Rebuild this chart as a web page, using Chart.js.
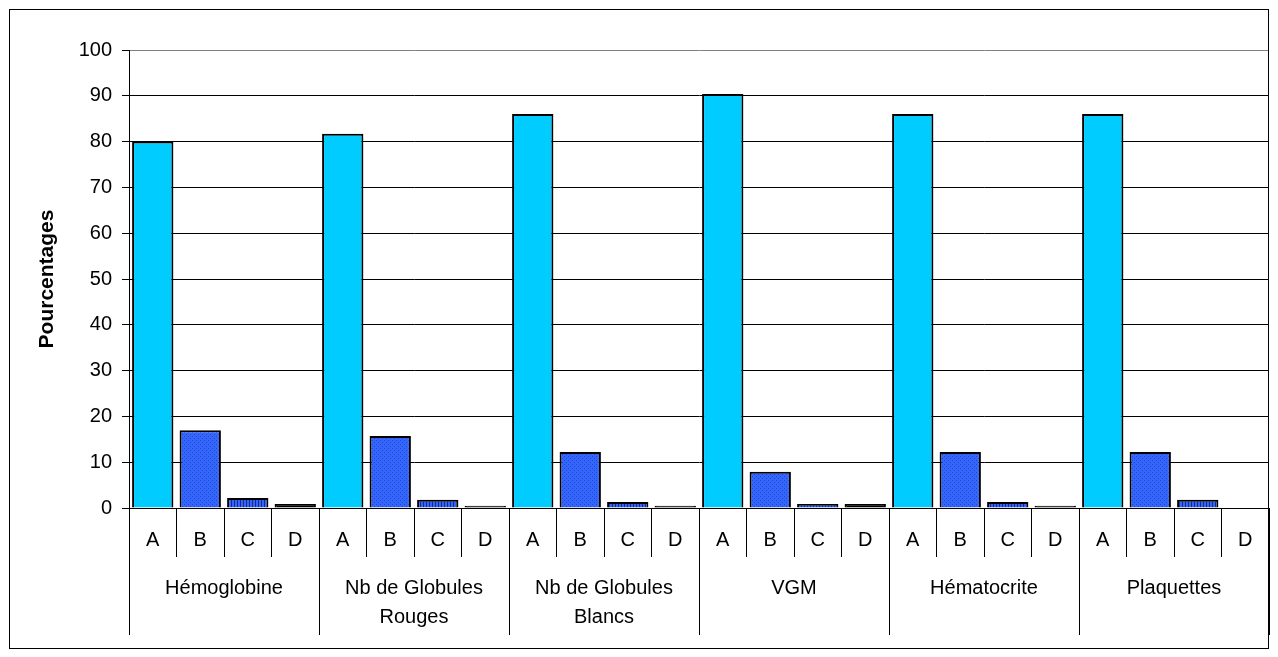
<!DOCTYPE html>
<html>
<head>
<meta charset="utf-8">
<script src="https://cdn.jsdelivr.net/npm/chart.js@4/dist/chart.umd.min.js"></script>
<style>
  html, body { margin: 0; padding: 0; background: #fff; }
  #wrap { width: 1278px; height: 657px; }
</style>
</head>
<body>
<div id="wrap"><canvas id="c" width="1278" height="657"></canvas></div>
<script>
// Blood test parameters (group labels) and the four sub-classes A..D
const groups = ['Hémoglobine', ['Nb de Globules', 'Rouges'], ['Nb de Globules', 'Blancs'], 'VGM', 'Hématocrite', 'Plaquettes'];
const classes = ['A', 'B', 'C', 'D'];

// Percentages for each class, one value per group
const valuesA = [80, 81.7, 86, 90.4, 86, 86];
const valuesB = [17, 15.7, 12.2, 7.9, 12.2, 12.2];
const valuesC = [2.2, 1.8, 1.3, 0.9, 1.3, 1.8];
const valuesD = [0.9, 0.5, 0.5, 0.9, 0.5, 0];

const yTicks = { min: 0, max: 100, step: 10 };
const yTitle = 'Pourcentages';

const canvas = document.getElementById('c');
const ctx = canvas.getContext('2d');

// Fill patterns for classes B (dotted) and C (vertical stripes)
function dotPattern() {
  const c = document.createElement('canvas');
  c.width = 4; c.height = 4;
  const g = c.getContext('2d');
  g.fillStyle = '#3366ff'; g.fillRect(0, 0, 4, 4);
  g.fillStyle = '#2a44b4';
  g.fillRect(0, 0, 1, 1); g.fillRect(2, 2, 1, 1);
  return ctx.createPattern(c, 'repeat');
}
function stripePattern() {
  const c = document.createElement('canvas');
  c.width = 3; c.height = 3;
  const g = c.getContext('2d');
  g.fillStyle = '#3366ff'; g.fillRect(0, 0, 3, 3);
  g.fillStyle = '#1a2a80'; g.fillRect(0, 0, 1, 3);
  return ctx.createPattern(c, 'repeat');
}
const fills = ['#00ccff', dotPattern(), stripePattern(), '#000000'];
const series = [valuesA, valuesB, valuesC, valuesD];

// Flatten into one category per (group, class)
const labels = [], data = [], colors = [];
groups.forEach((g, gi) => {
  classes.forEach((k, ki) => {
    labels.push(k);
    data.push(series[ki][gi]);
    colors.push(fills[ki]);
  });
});

const FONT = 'Liberation Sans, Arial, sans-serif';

const framePlugin = {
  id: 'frame',
  beforeDatasetsDraw(chart) {
    const a = chart.chartArea, c = chart.ctx;
    c.save();
    c.strokeStyle = '#808080';
    c.lineWidth = 1;
    c.beginPath();
    c.moveTo(Math.round(a.right) - 0.5, a.top);
    c.lineTo(Math.round(a.right) - 0.5, a.bottom);
    c.stroke();
    c.restore();
  },
  afterDraw(chart) {
    const c = chart.ctx;
    c.save();
    c.strokeStyle = '#000';
    c.lineWidth = 1;
    c.strokeRect(9.5, 9.5, 1259, 639);
    c.restore();
  }
};

new Chart(ctx, {
  type: 'bar',
  data: {
    labels: labels,
    datasets: [{
      data: data,
      backgroundColor: colors,
      borderColor: '#000',
      borderWidth: 2,
      barPercentage: 0.87,
      categoryPercentage: 1
    }]
  },
  options: {
    responsive: false,
    animation: false,
    layout: { padding: { left: 0, top: 50, right: 9, bottom: 22 } },
    plugins: { legend: { display: false }, tooltip: { enabled: false } },
    scales: {
      x: {
        type: 'category',
        position: 'bottom',
        weight: 0,
        offset: true,
        grid: { offset: true, drawOnChartArea: false, drawTicks: true, tickLength: 49, color: '#000', lineWidth: 1 },
        border: { display: true, color: '#000', width: 1 },
        ticks: { autoSkip: false, maxRotation: 0, padding: -29, color: '#000', font: { family: FONT, size: 20 } },
        afterFit(s) { s.height = 49; }
      },
      x2: {
        type: 'category',
        position: 'bottom',
        weight: 1,
        labels: groups,
        offset: true,
        grid: { offset: true, drawOnChartArea: false, drawTicks: true, tickLength: 78, color: '#000', lineWidth: 1 },
        border: { display: false },
        ticks: { autoSkip: false, maxRotation: 0, padding: -61.5, color: '#000', font: { family: FONT, size: 20, lineHeight: 1.45 } },
        afterFit(s) { s.height = 78; }
      },
      y: {
        min: yTicks.min,
        max: yTicks.max,
        ticks: { stepSize: yTicks.step, padding: 10, color: '#000', font: { family: FONT, size: 20 } },
        grid: {
          color: (c) => (c.tick && c.tick.value === yTicks.max ? '#808080' : '#000'),
          tickColor: '#000',
          lineWidth: 1,
          tickLength: 7
        },
        border: { display: true, color: '#000', width: 1 },
        title: { display: true, text: yTitle, color: '#000', font: { family: FONT, size: 21, weight: 'bold' }, padding: { top: 35, bottom: 0 } },
        afterFit(s) { s.width = 129; }
      }
    }
  },
  plugins: [framePlugin]
});
</script>
</body>
</html>
